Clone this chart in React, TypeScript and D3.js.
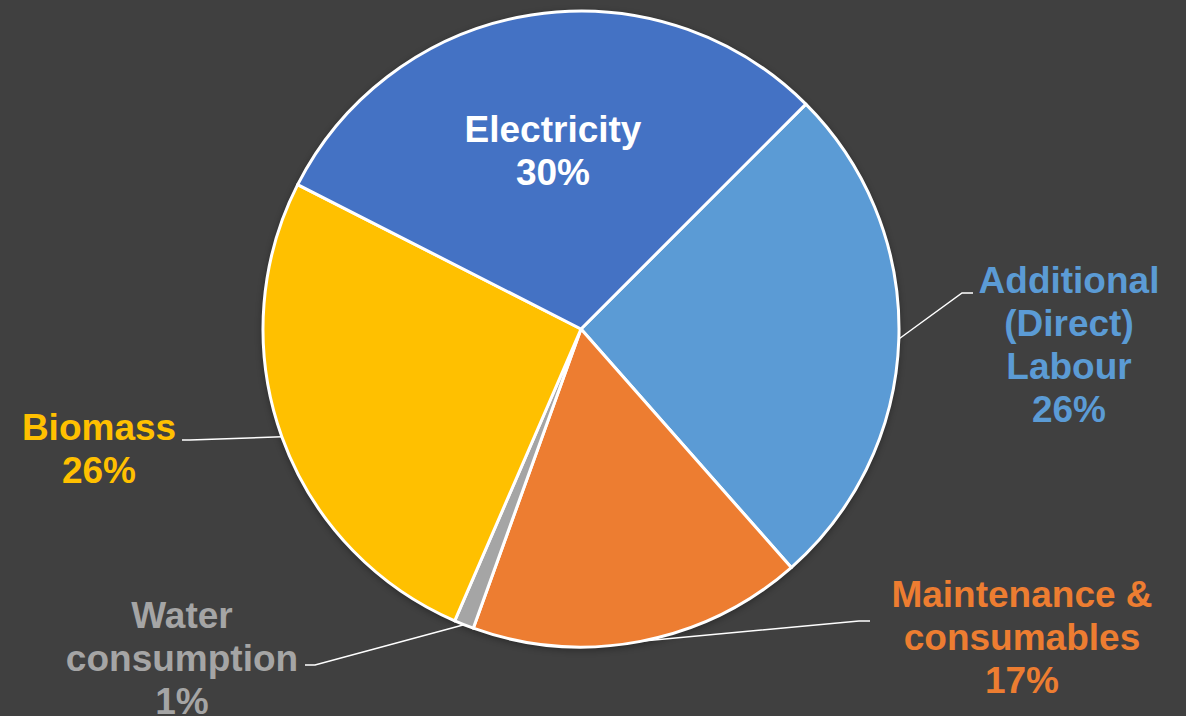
import React from "react";
import * as d3 from "d3";

// Cost breakdown shares (percent)
const categories = [
  "Additional (Direct) Labour",
  "Maintenance & consumables",
  "Water consumption",
  "Biomass",
  "Electricity",
];
const values = [26, 17, 1, 26, 30];
const colors = ["#5B9BD5", "#ED7D31", "#A5A5A5", "#FFC000", "#4472C4"];
const labelLines = [
  ["Additional", "(Direct)", "Labour"],
  ["Maintenance &", "consumables"],
  ["Water", "consumption"],
  ["Biomass"],
  ["Electricity"],
];

const W = 1186;
const H = 716;
const CX = 581;
const CY = 329;
const R = 318;
const FONT = 37;
const LINE_H = 43;

// Label placement: text centre x, first baseline y, leader elbow points (null = label inside)
const labelLayout: Record<string, { x: number; y: number; fill: string; leader: [number, number][] | null }> = {
  "Additional (Direct) Labour": { x: 1069, y: 293, fill: "#5B9BD5", leader: [[962, 293], [973, 293]] },
  "Maintenance & consumables": { x: 1022, y: 607, fill: "#ED7D31", leader: [[859, 621], [870, 621]] },
  "Water consumption": { x: 182, y: 628, fill: "#A5A5A5", leader: [[315, 665], [305, 665]] },
  Biomass: { x: 99, y: 440, fill: "#FFC000", leader: [[190, 440], [182, 440]] },
  Electricity: { x: 553, y: 142, fill: "#FFFFFF", leader: null },
};

export default function App() {
  const data = categories.map((c, i) => ({ category: c, value: values[i], color: colors[i], lines: labelLines[i] }));

  const pie = d3
    .pie<(typeof data)[number]>()
    .sort(null)
    .value((d) => d.value)
    .startAngle(Math.PI / 4)
    .endAngle(Math.PI / 4 + 2 * Math.PI);

  const arcs = pie(data);
  const arc = d3.arc<d3.PieArcDatum<(typeof data)[number]>>().innerRadius(0).outerRadius(R);

  return (
    <svg
      width={W}
      height={H}
      style={{ position: "absolute", left: 0, top: 0, display: "block", background: "#404040" }}
      fontFamily="'Liberation Sans', Arial, Helvetica, sans-serif"
      fontWeight="bold"
    >
      <defs>
        <filter id="pieShadow" x="-20%" y="-20%" width="140%" height="140%">
          <feDropShadow dx="0" dy="2" stdDeviation="4" floodColor="#000" floodOpacity="0.45" />
        </filter>
      </defs>
      <rect x={0} y={0} width={W} height={H} fill="#404040" />
      <g transform={`translate(${CX},${CY})`}>
        <circle r={R} fill="#404040" filter="url(#pieShadow)" />
        {arcs.map((a) => (
          <path key={a.data.category} d={arc(a) || ""} fill={a.data.color} stroke="#FFFFFF" strokeWidth={3} strokeLinejoin="round" />
        ))}
      </g>
      {arcs.map((a) => {
        const lay = labelLayout[a.data.category];
        const mid = (a.startAngle + a.endAngle) / 2;
        const edge: [number, number] = [CX + R * Math.sin(mid), CY - R * Math.cos(mid)];
        const lines = [...a.data.lines, `${a.data.value}%`];
        return (
          <g key={`lab-${a.data.category}`}>
            {lay.leader && (
              <polyline
                points={[edge, ...lay.leader].map((p) => p.join(",")).join(" ")}
                fill="none"
                stroke="#FFFFFF"
                strokeWidth={1.5}
              />
            )}
            <text x={lay.x} y={lay.y} fill={lay.fill} fontSize={FONT} textAnchor="middle">
              {lines.map((t, i) => (
                <tspan key={i} x={lay.x} y={lay.y + i * LINE_H}>
                  {t}
                </tspan>
              ))}
            </text>
          </g>
        );
      })}
    </svg>
  );
}
